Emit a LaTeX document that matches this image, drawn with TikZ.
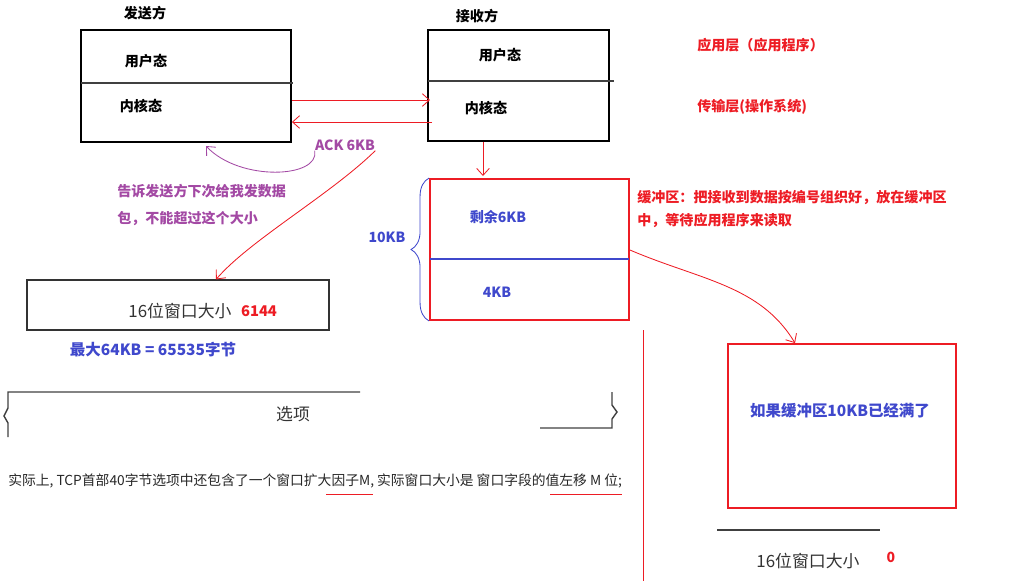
\documentclass[tikz,border=0pt]{standalone}
\usepackage{fontspec}
\setmainfont{Noto Sans CJK SC}
\usetikzlibrary{arrows.meta,decorations.pathreplacing}
\definecolor{penred}{RGB}{237,28,36}
\definecolor{penblue}{RGB}{63,72,204}
\definecolor{penpurple}{RGB}{163,73,164}
\begin{document}
\begin{tikzpicture}[x=0.025cm,y=-0.025cm,
    lbl/.style={font=\fontsize{10}{12}\selectfont\bfseries, inner sep=0pt},
    redtxt/.style={lbl, text=penred},
    bluetxt/.style={lbl, text=penblue},
    purpletxt/.style={lbl, text=penpurple},
    scan/.style={font=\fontsize{12}{14}\selectfont, text=black!80, inner sep=0pt},
    box/.style={draw, line width=1.3pt, inner sep=0pt},
    redbox/.style={draw=penred, line width=1.3pt, inner sep=0pt},
    pen/.style={penred, line width=0.6pt},
    >={Straight Barb[length=5pt,width=9pt]}]
    \useasboundingbox (0,0) rectangle (1019,581);

    % sender side
    \node[lbl] (sendTitle) at (145,13) {发送方};
    \node[box, minimum width=5.25cm, minimum height=2.8cm] (sender) at (186,86) {};
    \draw[line width=0.8pt, black!75] (81,83) -- (293,83);
    \node[lbl] (sendUser) at (146,61) {用户态};
    \node[lbl] (sendKernel) at (141,106) {内核态};

    % receiver side
    \node[lbl] (recvTitle) at (477,16) {接收方};
    \node[box, minimum width=4.525cm, minimum height=2.775cm] (receiver) at (518.5,85.5) {};
    \draw[line width=0.8pt, black!75] (428,81) -- (614,81);
    \node[lbl] (recvUser) at (500,55) {用户态};
    \node[lbl] (recvKernel) at (486,108) {内核态};

    % layer names
    \node[redtxt, anchor=west] (appLayer) at (697,45) {应用层（应用程序）};
    \node[redtxt, anchor=west] (tcpLayer) at (697,107) {传输层(操作系统)};

    % data and ack between the two
    \coordinate (recvIn) at (430,100);
    \coordinate (recvBack) at (432,122);
    \draw[pen,->] (sender.east |- recvIn) -- (recvIn);
    \draw[pen,->] (recvBack) -- (sender.east |- recvBack);
    \node[purpletxt] (ack) at (345,145) {ACK 6KB};
    \coordinate (ackEnd) at (206,146);
    \draw[penpurple, line width=0.6pt, ->] (ack.south west) .. controls (320,178) and (240,182) .. (ackEnd);
    \node[purpletxt, anchor=north west, align=left, font=\fontsize{10}{19}\selectfont\bfseries] (tellSender) at (117,184)
        {告诉发送方下次给我发数据\\包，不能超过这个大小};

    % 16 bit window field
    \node[draw=black!80, line width=0.8pt, minimum width=7.55cm, minimum height=1.25cm] (winField) at (178,305) {};
    \node[scan] (winText) at (180,311) {16位窗口大小};
    \node[redtxt, font=\fontsize{10.5}{12}\selectfont\bfseries] (winValue) at (259,311) {6144};
    \draw[pen,->] (ack.south east) .. controls (330,195) and (250,240) .. (winField.north -| 216,0);
    \node[bluetxt, font=\fontsize{11}{13}\selectfont\bfseries] (maxWin) at (153,350) {最大64KB = 65535字节};

    % buffer
    \draw[pen,->] (receiver.south -| 483,0) -- (483,176);
    \node[redbox, minimum width=4.975cm, minimum height=3.525cm] (buffer) at (529.5,249.5) {};
    \draw[penblue, line width=0.8pt] (430,259) -- (629,259);
    \node[bluetxt] (freeSpace) at (498,217) {剩余6KB};
    \node[bluetxt] (usedSpace) at (497,292) {4KB};
    \draw[penblue, line width=0.6pt, decorate, decoration={brace, amplitude=0.45cm}] (buffer.south west) -- (buffer.north west);
    \node[bluetxt] (bufSize) at (387,237) {10KB};
    \node[redtxt, anchor=north west, align=left, font=\fontsize{10}{16.3}\selectfont\bfseries] (bufNote) at (637,190)
        {缓冲区：把接收到数据按编号组织好，放在缓冲区\\中，等待应用程序来读取};

    % buffer full
    \node[redbox, minimum width=5.7cm, minimum height=4.1cm] (fullBuf) at (842,426) {};
    \node[bluetxt, font=\fontsize{11}{13}\selectfont\bfseries] (fullText) at (840,411) {如果缓冲区10KB已经满了};
    \draw[pen,->] (buffer.east |- 0,250) .. controls (700,280) and (760,285) .. (fullBuf.north -| 795,0);
    \draw[pen] (643,330) -- (643,581);
    \draw[line width=1.2pt, black!75] (717,530) -- (880,530);
    \node[scan] (zeroText) at (808,561) {16位窗口大小};
    \node[redtxt] (zeroValue) at (891,557) {0};

    % options field
    \draw[line width=1pt, black!75] (360,392) -- (8,392) -- (8,408) -- (4,416) -- (8,423) -- (8,437);
    \draw[line width=1pt, black!75] (612,392) -- (612,405) -- (617,412) -- (612,419) -- (612,428) -- (540,428);
    \node[scan] (optText) at (293,414) {选项};

    % note at the bottom
    \node[anchor=west, inner sep=0pt, font=\fontsize{9.8}{11}\selectfont, text=black!85] (note) at (8,481)
        {实际上, TCP首部40字节选项中还包含了一个窗口扩大因子M, 实际窗口大小是 窗口字段的值左移 M 位;};
    \draw[pen] (326,494) -- (373,494);
    \draw[pen] (550,494) -- (622,494);
\end{tikzpicture}
\end{document}
